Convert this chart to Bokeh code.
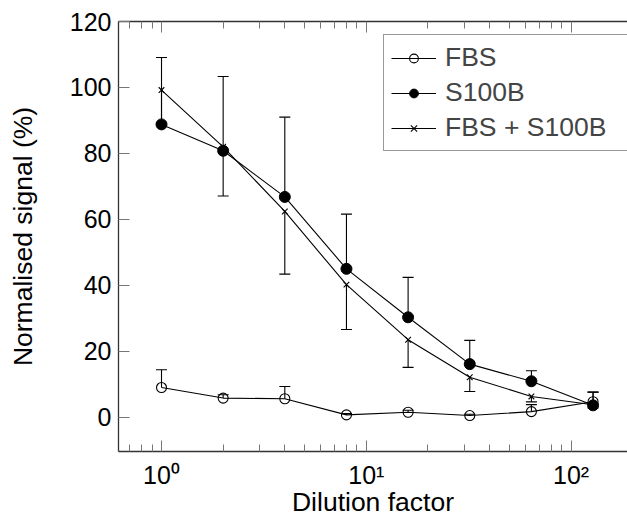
from bokeh.plotting import figure
from bokeh.models import (ColumnDataSource, Whisker, TeeHead, FixedTicker, LogAxis,
                          Legend, LegendItem, Range1d)
from bokeh.embed import file_html
from bokeh.resources import INLINE

# ---- data ----
dilution = [1, 2, 4, 8, 16, 32, 64, 128]
fbs = [9.0, 5.8, 5.6, 0.7, 1.5, 0.5, 1.7, 4.7]
fbs_err = [5.4, 1.0, 3.7, 0.4, 0.6, 0.4, 2.1, 2.9]          # drawn upwards
s100b = [88.8, 80.8, 66.8, 45.0, 30.3, 16.1, 10.9, 3.6]
s100b_err = [20.3, 22.5, 24.2, 16.6, 12.1, 7.2, 3.2, 4.0]    # drawn upwards
combo = [99.2, 82.0, 62.4, 40.2, 23.5, 12.1, 6.3, 3.8]
combo_err = [10.0, 14.9, 19.0, 13.6, 8.4, 4.3, 1.65, 1.0]    # drawn downwards

x_major = [1, 10, 100]
x_minor = [0.7, 0.8, 0.9, 2, 3, 4, 5, 6, 7, 8, 9, 20, 30, 40, 50, 60, 70, 80, 90, 200]
x_labels = {1: "10\u2070", 10: "10\u00b9", 100: "10\u00b2"}
y_ticks = [0, 20, 40, 60, 80, 100, 120]
x_title = "Dilution factor"
y_title = "Normalised signal (%)"

FONT = "Liberation Sans"
AX = "#333333"
TK = "#777777"

src_fbs = ColumnDataSource(dict(x=dilution, y=fbs,
                                lo=fbs, hi=[a + b for a, b in zip(fbs, fbs_err)]))
src_s = ColumnDataSource(dict(x=dilution, y=s100b,
                              lo=s100b, hi=[a + b for a, b in zip(s100b, s100b_err)]))
src_c = ColumnDataSource(dict(x=dilution, y=combo,
                              lo=[a - b for a, b in zip(combo, combo_err)], hi=combo))

p = figure(width=627, height=520, x_axis_type="log",
           x_range=Range1d(10 ** -0.21, 10 ** 2.2754), y_range=Range1d(-10.4, 120),
           output_backend="svg", toolbar_location=None,
           min_border_left=118, min_border_right=0, min_border_top=21, min_border_bottom=69)
p.outline_line_color = None
p.xgrid.visible = False
p.ygrid.visible = False
p.background_fill_color = "white"
p.border_fill_color = "white"

xt = FixedTicker(ticks=x_major, minor_ticks=x_minor)

# bottom x axis
xa = p.xaxis[0]
xa.ticker = xt
xa.major_label_overrides = x_labels
xa.axis_label = x_title

# left y axis
ya = p.yaxis[0]
ya.ticker = FixedTicker(ticks=y_ticks)
ya.axis_label = y_title

for ax in (xa, ya):
    ax.axis_line_color = AX
    ax.axis_line_width = 1.3
    ax.major_tick_in = 11
    ax.major_tick_out = 0
    ax.minor_tick_in = 7
    ax.minor_tick_out = 0
    ax.major_tick_line_color = TK
    ax.minor_tick_line_color = TK
    ax.major_label_text_font = FONT
    ax.major_label_text_font_size = "25px"
    ax.major_label_text_color = "black"
    ax.axis_label_text_font = FONT
    ax.axis_label_text_font_size = "26.5px"
    ax.axis_label_text_font_style = "normal"
    ax.axis_label_text_color = "black"

ya.minor_tick_line_color = None
ya.major_label_standoff = 7
ya.axis_label_standoff = 29
xa.major_label_standoff = 9
xa.axis_label_standoff = -5

# top axis (ticks only)
top = LogAxis(ticker=xt, major_tick_in=11, major_tick_out=0, minor_tick_in=7, minor_tick_out=0,
              major_tick_line_color=TK, minor_tick_line_color=TK,
              axis_line_color=AX, axis_line_width=1.3,
              major_label_text_font_size="1px", major_label_text_color=None,
              major_label_standoff=0)
p.add_layout(top, "above")

# lines
l_f = p.line("x", "y", source=src_fbs, line_color="black", line_width=1.1)
l_s = p.line("x", "y", source=src_s, line_color="black", line_width=1.1)
l_c = p.line("x", "y", source=src_c, line_color="black", line_width=1.1)

# markers
m_f = p.scatter("x", "y", source=src_fbs, marker="circle", size=10,
                fill_color=None, line_color="black", line_width=1.1)
m_s = p.scatter("x", "y", source=src_s, marker="circle", size=11,
                fill_color="black", line_color="black", line_width=1)
m_c = p.scatter("x", "y", source=src_c, marker="x", size=8,
                line_color="black", line_width=1.1)

# error bars (one-sided)
w_f = Whisker(base="x", lower="lo", upper="hi", source=src_fbs,
              line_color="black", line_width=1.1, lower_head=None,
              upper_head=TeeHead(size=11, line_color="black", line_width=1.1))
w_s = Whisker(base="x", lower="lo", upper="hi", source=src_s,
              line_color="black", line_width=1.1, lower_head=None,
              upper_head=TeeHead(size=11, line_color="black", line_width=1.1))
w_c = Whisker(base="x", lower="lo", upper="hi", source=src_c,
              line_color="black", line_width=1.1, upper_head=None,
              lower_head=TeeHead(size=11, line_color="black", line_width=1.1))
for w in (w_f, w_s, w_c):
    p.add_layout(w)

legend = Legend(items=[LegendItem(label="FBS", renderers=[l_f, m_f]),
                       LegendItem(label="S100B", renderers=[l_s, m_s]),
                       LegendItem(label="FBS + S100B", renderers=[l_c, m_c])],
                location=(265, 300), padding=7, spacing=4, margin=0,
                glyph_width=45, glyph_height=22, label_height=30, label_width=175,
                label_standoff=9, label_text_font=FONT, label_text_font_size="26.5px",
                border_line_color=AX, border_line_width=1.3,
                background_fill_color="white", background_fill_alpha=1)
p.add_layout(legend)

open("out.html", "w").write(file_html(p, INLINE))
